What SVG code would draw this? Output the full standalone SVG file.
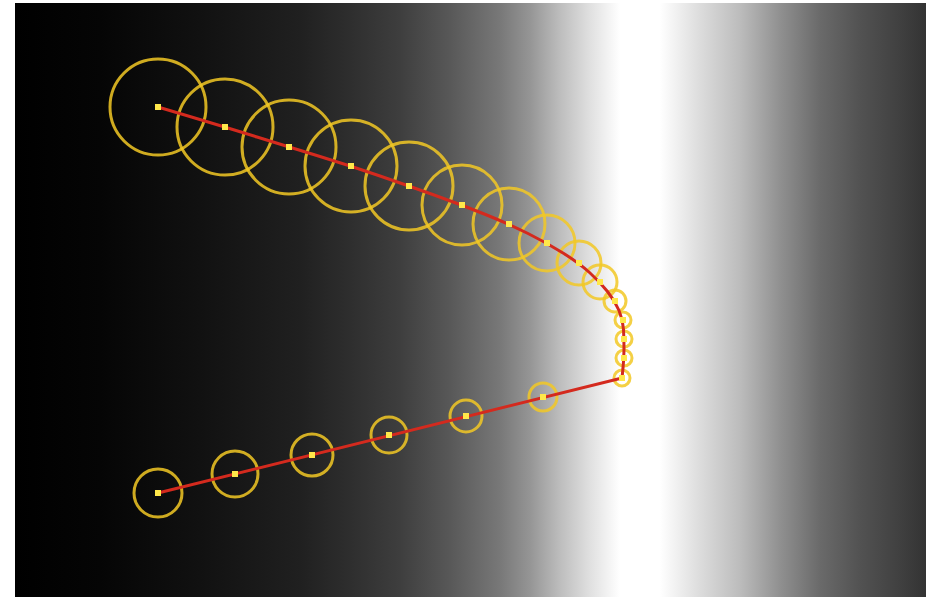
<svg xmlns="http://www.w3.org/2000/svg" width="926" height="599" viewBox="0 0 926 599">
<defs>
<linearGradient id="bg" gradientUnits="userSpaceOnUse" x1="15" y1="0" x2="926" y2="0">
<stop offset="0" stop-color="#000"/>
<stop offset="0.0933" stop-color="#050505"/>
<stop offset="0.2031" stop-color="#111"/>
<stop offset="0.3129" stop-color="#202020"/>
<stop offset="0.3677" stop-color="#2e2e2e"/>
<stop offset="0.4226" stop-color="#3e3e3e"/>
<stop offset="0.4775" stop-color="#585858"/>
<stop offset="0.5324" stop-color="#787878"/>
<stop offset="0.5653" stop-color="#959595"/>
<stop offset="0.5982" stop-color="#bdbdbd"/>
<stop offset="0.6312" stop-color="#e0e0e0"/>
<stop offset="0.6641" stop-color="#fff"/>
<stop offset="0.7080" stop-color="#fff"/>
<stop offset="0.7519" stop-color="#dcdcdc"/>
<stop offset="0.7958" stop-color="#bcbcbc"/>
<stop offset="0.8397" stop-color="#909090"/>
<stop offset="0.8836" stop-color="#6a6a6a"/>
<stop offset="0.9276" stop-color="#525252"/>
<stop offset="0.9715" stop-color="#404040"/>
<stop offset="1" stop-color="#333"/>
</linearGradient>
</defs>
<style>
.c{fill:none;stroke:#f2c824;stroke-width:3;stroke-opacity:0.85}
.d{fill:#ffe84a}
.l{fill:none;stroke:#d42a1e;stroke-width:3;stroke-linejoin:round;stroke-linecap:round}
</style>
<rect x="0" y="0" width="926" height="599" fill="#fff"/>
<rect x="15" y="3" width="911" height="594" fill="url(#bg)"/>
<g id="circles">
<g id="n1"><circle class="c" cx="158" cy="107" r="48"/></g>
<g id="n2"><circle class="c" cx="225" cy="127" r="48"/></g>
<g id="n3"><circle class="c" cx="289" cy="147" r="47"/></g>
<g id="n4"><circle class="c" cx="351" cy="166" r="46"/></g>
<g id="n5"><circle class="c" cx="409" cy="186" r="44"/></g>
<g id="n6"><circle class="c" cx="462" cy="205" r="40"/></g>
<g id="n7"><circle class="c" cx="509" cy="224" r="36"/></g>
<g id="n8"><circle class="c" cx="547" cy="243" r="28"/></g>
<g id="n9"><circle class="c" cx="579" cy="263" r="22"/></g>
<g id="n10"><circle class="c" cx="600" cy="282" r="17"/></g>
<g id="n11"><circle class="c" cx="615" cy="301" r="11"/></g>
<g id="n12"><circle class="c" cx="623" cy="320" r="8"/></g>
<g id="n13"><circle class="c" cx="624" cy="339" r="8"/></g>
<g id="n14"><circle class="c" cx="624" cy="358" r="8"/></g>
<g id="n15"><circle class="c" cx="622" cy="378" r="8"/></g>
<g id="n16"><circle class="c" cx="543" cy="397" r="14"/></g>
<g id="n17"><circle class="c" cx="466" cy="416" r="16"/></g>
<g id="n18"><circle class="c" cx="389" cy="435" r="18"/></g>
<g id="n19"><circle class="c" cx="312" cy="455" r="21"/></g>
<g id="n20"><circle class="c" cx="235" cy="474" r="23"/></g>
<g id="n21"><circle class="c" cx="158" cy="493" r="24"/></g>
</g>
<g id="connectors">
<path class="l" d="M158,107 L191.5,117 Q225,127 257,137 Q289,147 320,156.5 Q351,166 380,176 Q409,186 435.5,195.5 Q462,205 485.5,214.5 Q509,224 528,233.5 Q547,243 563,253 Q579,263 589.5,272.5 Q600,282 607.5,291.5 Q615,301 619,310.5 Q623,320 623.5,329.5 Q624,339 624,348.5 Q624,358 623,368 L622,378 L158,493"/>
</g>
<g id="dots">
<rect class="d" x="155" y="104" width="6" height="6"/>
<rect class="d" x="222" y="124" width="6" height="6"/>
<rect class="d" x="286" y="144" width="6" height="6"/>
<rect class="d" x="348" y="163" width="6" height="6"/>
<rect class="d" x="406" y="183" width="6" height="6"/>
<rect class="d" x="459" y="202" width="6" height="6"/>
<rect class="d" x="506" y="221" width="6" height="6"/>
<rect class="d" x="544" y="240" width="6" height="6"/>
<rect class="d" x="576" y="260" width="6" height="6"/>
<rect class="d" x="597" y="279" width="6" height="6"/>
<rect class="d" x="612" y="298" width="6" height="6"/>
<rect class="d" x="620" y="317" width="6" height="6"/>
<rect class="d" x="621" y="336" width="6" height="6"/>
<rect class="d" x="621" y="355" width="6" height="6"/>
<rect class="d" x="619" y="375" width="6" height="6"/>
<rect class="d" x="540" y="394" width="6" height="6"/>
<rect class="d" x="463" y="413" width="6" height="6"/>
<rect class="d" x="386" y="432" width="6" height="6"/>
<rect class="d" x="309" y="452" width="6" height="6"/>
<rect class="d" x="232" y="471" width="6" height="6"/>
<rect class="d" x="155" y="490" width="6" height="6"/>
</g>
</svg>
